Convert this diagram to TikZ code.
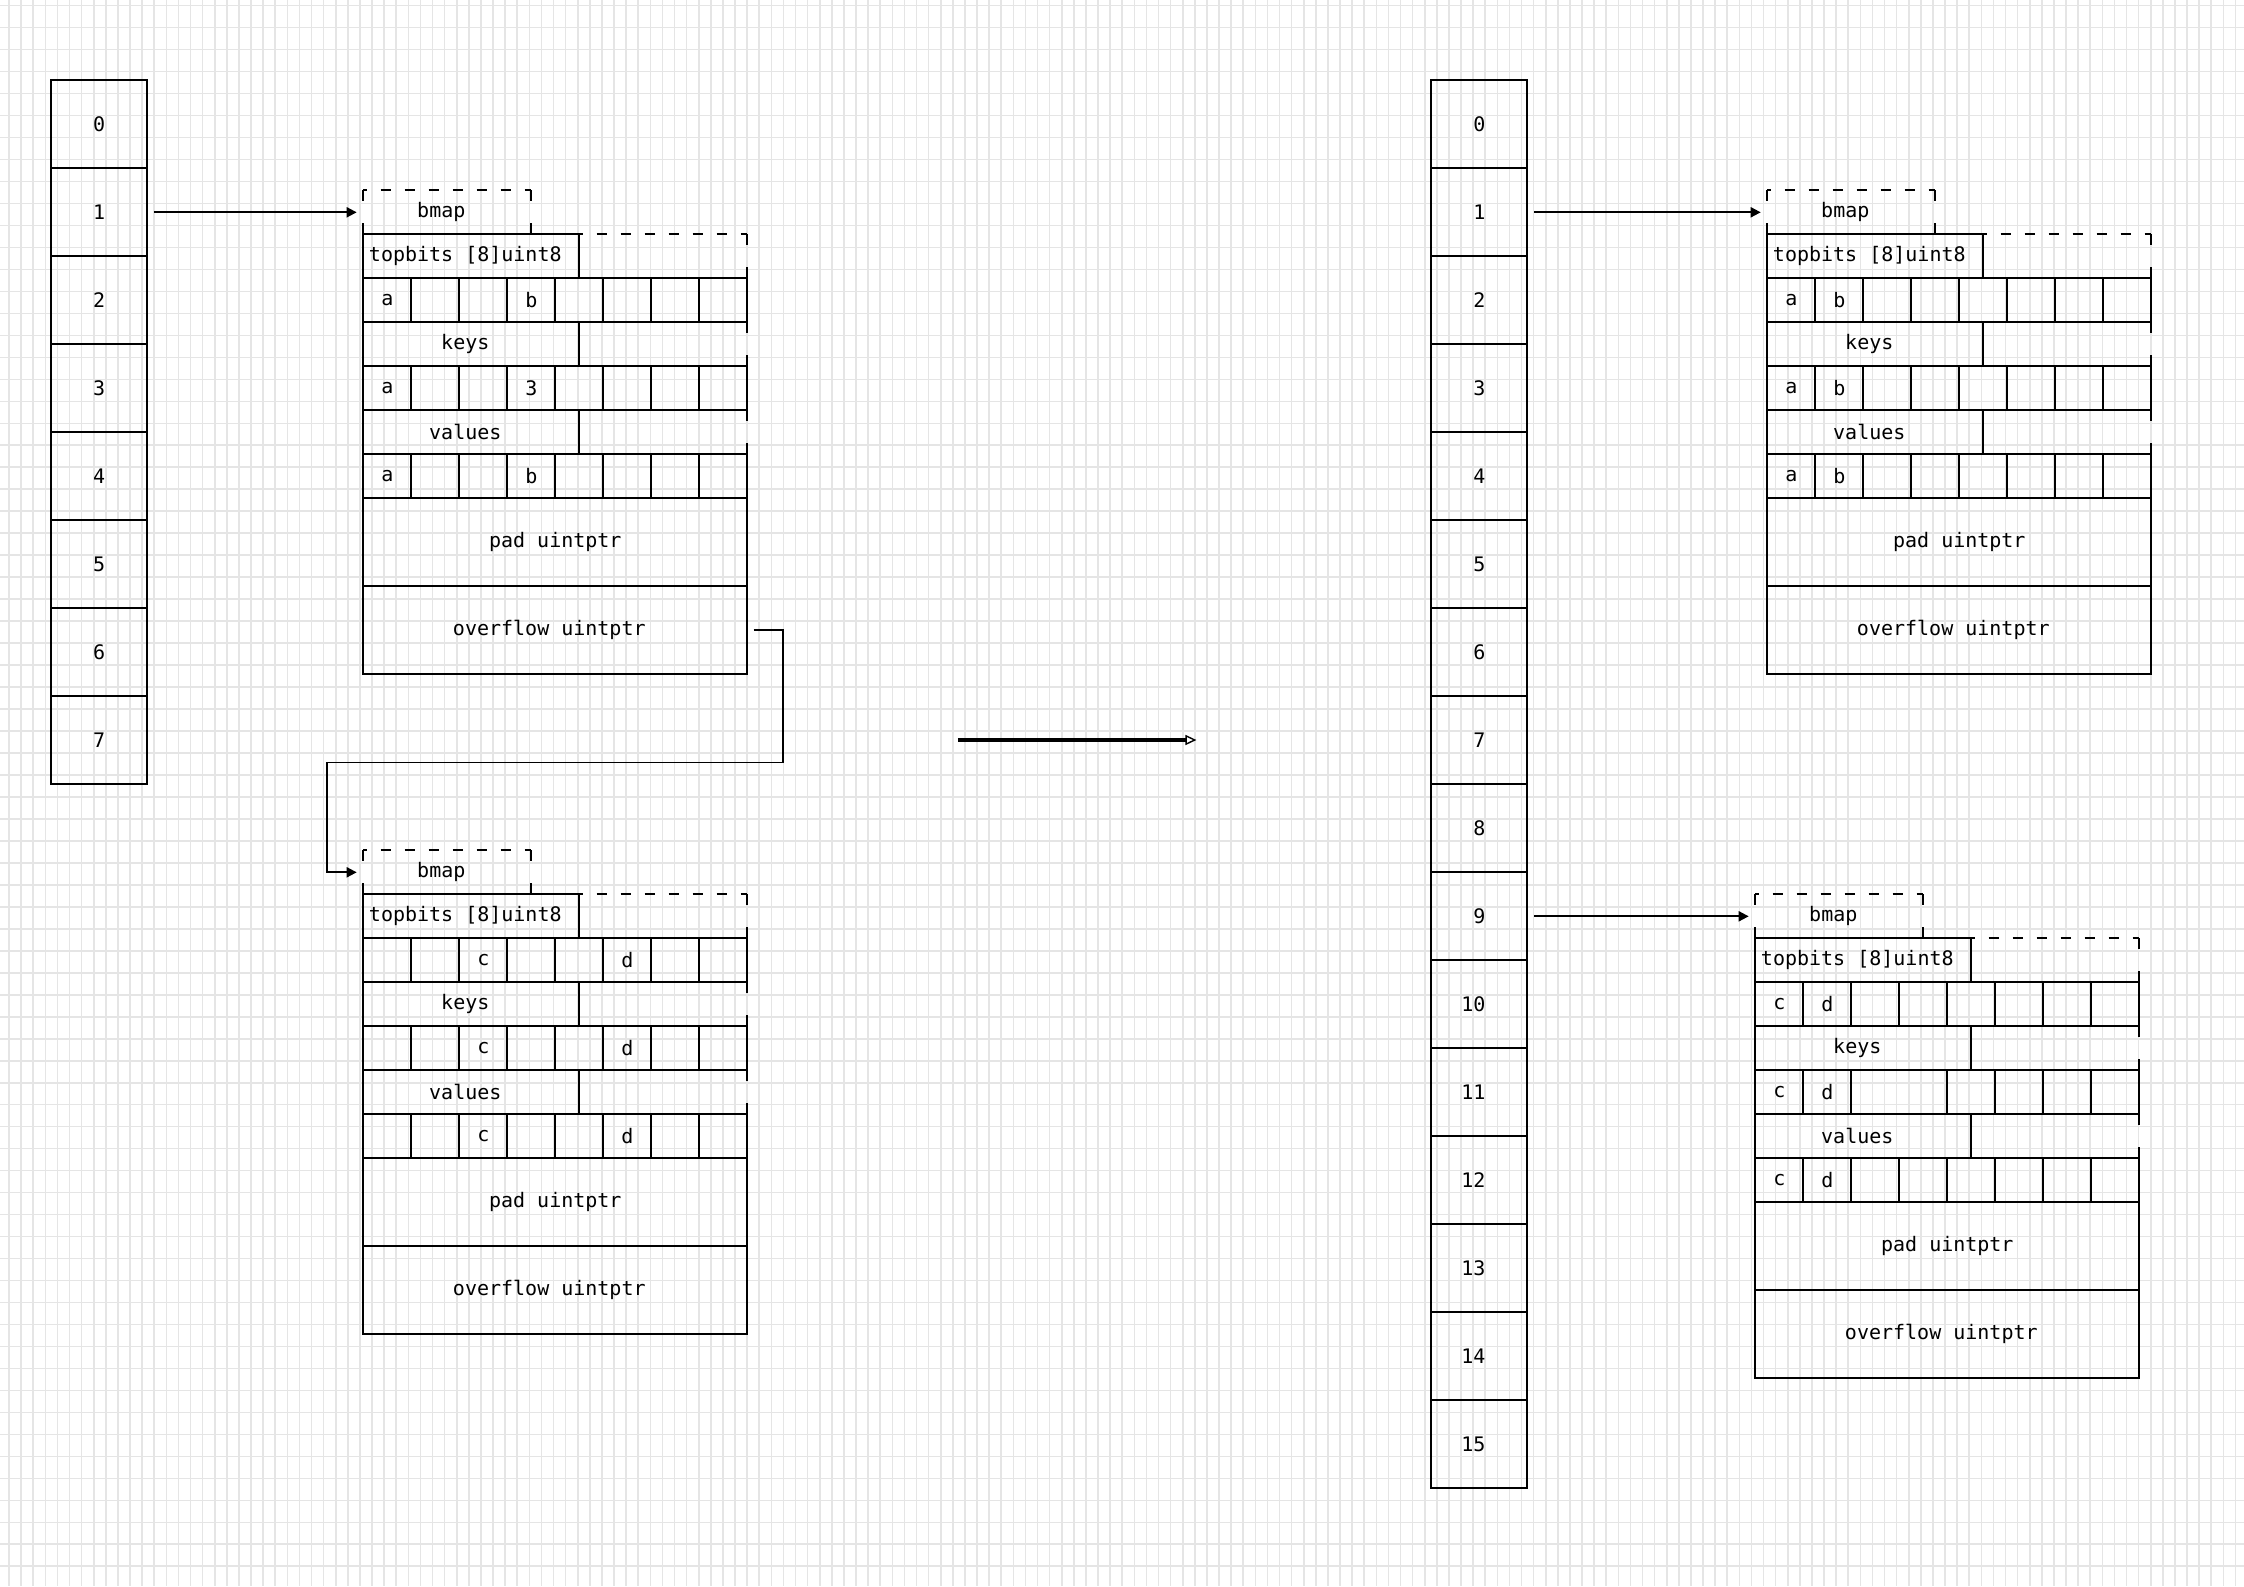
\documentclass[tikz,border=0pt]{standalone}
\usepackage{fontspec}
\setmonofont{DejaVu Sans Mono}
\usetikzlibrary{arrows.meta}
\tikzset{
  lbl/.style={font=\ttfamily\fontsize{10}{12}\selectfont},
  sbox/.style={draw=black, line width=0.95pt, inner sep=0pt, outer sep=0pt, lbl, rectangle},
  dbox/.style={inner sep=0pt, outer sep=0pt, rectangle, lbl},
  hdash/.style={line width=0.95pt, dash pattern=on 5pt off 7pt, dash phase=3.35pt},
  vdash/.style={line width=0.95pt, dash pattern=on 5.5pt off 11pt},
  gridln/.style={line width=0.8pt, draw=black!10},
  conn/.style={line width=0.95pt, -{Triangle[length=5pt,width=5pt]}},
  bigarr/.style={line width=1.7pt, -{Triangle[open,length=5.5pt,width=5pt,line width=0.7pt]}},
}
\newcommand\dashframe[1]{%
  \draw[hdash] (#1.north west) -- (#1.north east);
  \draw[hdash] (#1.south west) -- (#1.south east);
  \draw[vdash] (#1.north west) -- (#1.south west);
  \draw[vdash] (#1.north east) -- (#1.south east);}
\newcommand\bucket[3]{%
  \begin{scope}[shift={(#2,#3)}]
    \node[dbox, minimum width=84pt, minimum height=22pt] (#1bm) at (84,22) {\hspace*{-6pt}bmap};
    \dashframe{#1bm}
    \node[dbox, minimum width=84pt, minimum height=22pt] (#1tbr) at (300,66) {};
    \dashframe{#1tbr}
    \node[dbox, minimum width=84pt, minimum height=22pt] (#1kyr) at (300,154) {};
    \dashframe{#1kyr}
    \node[dbox, minimum width=84pt, minimum height=22pt] (#1vlr) at (300,242) {};
    \dashframe{#1vlr}
    \node[sbox, minimum width=108pt, minimum height=22pt] (#1tb) at (108,66) {\hspace*{-6pt}topbits [8]uint8};
    \node[sbox, minimum width=108pt, minimum height=22pt] (#1ky) at (108,154) {\hspace*{-6pt}keys};
    \node[sbox, minimum width=108pt, minimum height=22pt] (#1vl) at (108,242) {\hspace*{-6pt}values};
    \node[sbox, minimum width=192pt, minimum height=44pt] (#1pd) at (192,352) {pad uintptr};
    \node[sbox, minimum width=192pt, minimum height=44pt] (#1of) at (192,440) {\hspace*{-6pt}overflow uintptr};
  \end{scope}}
\newcommand\cellrow[4]{%
  \foreach \cs/\cw/\ct [count=\ck from 0] in {#4} {
    \node[sbox, minimum width={24pt*\cw}, minimum height=22pt] (#1\ck) at ({#2+48*\cs+24*\cw},{#3+22}) {\ct};
  }}
\begin{document}
\begin{tikzpicture}[x=0.5pt,y=-0.5pt]
\useasboundingbox (0,0) rectangle (2244,1586);
\fill[white] (0,0) rectangle (2244,1586);
\begin{scope}
  \clip (0,0) rectangle (2244,1586);
  \foreach \i in {0,...,184} \draw[gridln] ({9+12.1*\i},0) -- ({9+12.1*\i},1586);
  \foreach \j in {0,...,72} \draw[gridln] (0,{5.67+21.98*\j}) -- (2244,{5.67+21.98*\j});
\end{scope}

% arrays
\foreach \i in {0,...,7}
  \node[sbox, minimum width=48pt, minimum height=44pt] (L\i) at (99.2,{124.3+88*\i}) {\i};
\foreach \i in {0,...,15}
  \node[sbox, minimum width=48pt, minimum height=44pt] (R\i) at (1479.4,{124.3+88*\i}) {\ifnum\i>9 \hspace*{-6pt}\fi\i};

% bucket B (top left)
\bucket{B}{363.3}{190.3}
\cellrow{Bt}{363.3}{278.3}{0/1/a,1/1/{},2/1/{},3/1/b,4/1/{},5/1/{},6/1/{},7/1/{}}
\cellrow{Bk}{363.3}{366.3}{0/1/a,1/1/{},2/1/{},3/1/3,4/1/{},5/1/{},6/1/{},7/1/{}}
\cellrow{Bv}{363.3}{454.3}{0/1/a,1/1/{},2/1/{},3/1/b,4/1/{},5/1/{},6/1/{},7/1/{}}

% bucket C (overflow, bottom left)
\bucket{C}{363.3}{850.3}
\cellrow{Ct}{363.3}{938.3}{0/1/{},1/1/{},2/1/c,3/1/{},4/1/{},5/1/d,6/1/{},7/1/{}}
\cellrow{Ck}{363.3}{1026.3}{0/1/{},1/1/{},2/1/c,3/1/{},4/1/{},5/1/d,6/1/{},7/1/{}}
\cellrow{Cv}{363.3}{1114.3}{0/1/{},1/1/{},2/1/c,3/1/{},4/1/{},5/1/d,6/1/{},7/1/{}}

% bucket D (top right)
\bucket{D}{1767.3}{190.3}
\cellrow{Dt}{1767.3}{278.3}{0/1/a,1/1/b,2/1/{},3/1/{},4/1/{},5/1/{},6/1/{},7/1/{}}
\cellrow{Dk}{1767.3}{366.3}{0/1/a,1/1/b,2/1/{},3/1/{},4/1/{},5/1/{},6/1/{},7/1/{}}
\cellrow{Dv}{1767.3}{454.3}{0/1/a,1/1/b,2/1/{},3/1/{},4/1/{},5/1/{},6/1/{},7/1/{}}

% bucket E (bottom right)
\bucket{E}{1755.3}{894.3}
\cellrow{Et}{1755.3}{982.3}{0/1/c,1/1/d,2/1/{},3/1/{},4/1/{},5/1/{},6/1/{},7/1/{}}
\cellrow{Ek}{1755.3}{1070.3}{0/1/c,1/1/d,2/2/{},4/1/{},5/1/{},6/1/{},7/1/{}}
\cellrow{Ev}{1755.3}{1158.3}{0/1/c,1/1/d,2/1/{},3/1/{},4/1/{},5/1/{},6/1/{},7/1/{}}

% connectors
\coordinate (ovc) at (326.7,762.5);
\draw[conn] ([xshift=3.35pt]L1.east) -- ([xshift=-3.3pt]Bbm.west);
\draw[conn] ([xshift=3.2pt]Bof.east) -- ++(29.6,0) |- (ovc) |- ([xshift=-3.3pt]Cbm.west);
\draw[conn] ([xshift=3.35pt]R1.east) -- ([xshift=-3.3pt]Dbm.west);
\draw[conn] ([xshift=3.35pt]R9.east) -- ([xshift=-3.3pt]Ebm.west);
\coordinate (ms) at (957.9,740);
\coordinate (me) at (1196.4,740);
\draw[bigarr] (ms) -- (me);
\end{tikzpicture}
\end{document}
